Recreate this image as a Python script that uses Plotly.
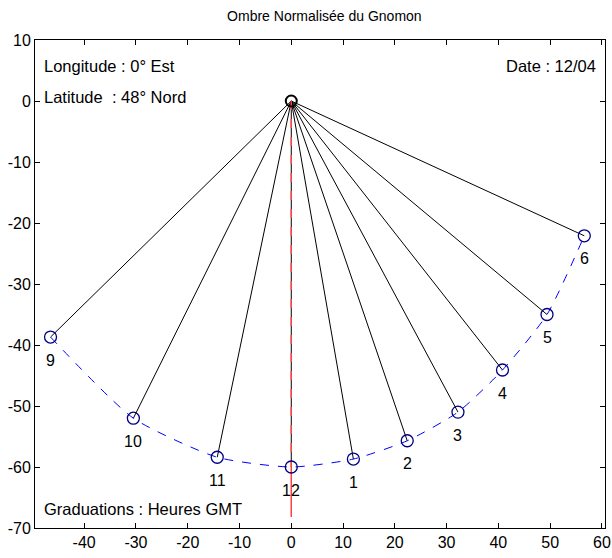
import plotly.graph_objects as go

hours = ["9", "10", "11", "12", "1", "2", "3", "4", "5", "6"]
shadow_x = [-46.5, -30.5, -14.3, 0.0, 12.0, 22.4, 32.2, 40.8, 49.4, 56.6]
shadow_y = [-38.7, -52.0, -58.4, -60.0, -58.7, -55.7, -51.0, -44.1, -35.0, -22.1]
gnomon = (0.0, 0.0)
meridian_end = -68.2
x_ticks = [-40, -30, -20, -10, 0, 10, 20, 30, 40, 50, 60]
y_ticks = [-70, -60, -50, -40, -30, -20, -10, 0, 10]

FONT = "Arial, Liberation Sans, sans-serif"
fig = go.Figure()

# rays from gnomon foot to shadow tips
for x, y in zip(shadow_x, shadow_y):
    fig.add_trace(go.Scatter(x=[gnomon[0], x], y=[gnomon[1], y], mode="lines",
                             line=dict(color="black", width=1), hoverinfo="skip"))

# meridian (red)
fig.add_trace(go.Scatter(x=[0, 0], y=[0, shadow_y[3]], mode="lines",
                         line=dict(color="#ff4040", width=1.5, dash="dash")))
fig.add_trace(go.Scatter(x=[0, 0], y=[shadow_y[3], meridian_end], mode="lines",
                         line=dict(color="#ff4040", width=1.5)))

# curve of shadow tips
fig.add_trace(go.Scatter(x=shadow_x, y=shadow_y, mode="lines",
                         line=dict(color="blue", width=1, dash="dash", shape="spline", smoothing=0.6)))
fig.add_trace(go.Scatter(x=shadow_x, y=shadow_y, mode="markers",
                         marker=dict(symbol="circle-open", size=12, color="#000080",
                                     line=dict(width=1.3, color="#000080"))))
fig.add_trace(go.Scatter(x=[gnomon[0]], y=[gnomon[1]], mode="markers",
                         marker=dict(symbol="circle-open", size=11, color="black",
                                     line=dict(width=2, color="black"))))

for h, x, y in zip(hours, shadow_x, shadow_y):
    fig.add_annotation(x=x, y=y, text=h, showarrow=False, yshift=-23,
                       font=dict(family=FONT, size=16, color="black"))

TXT = dict(family=FONT, size=16.5, color="black")
fig.add_annotation(xref="paper", yref="paper", x=0.012, y=0.947, xanchor="left", yanchor="middle",
                   text="Longitude : 0° Est", showarrow=False, font=TXT)
fig.add_annotation(xref="paper", yref="paper", x=0.012, y=0.883, xanchor="left", yanchor="middle",
                   text="Latitude  : 48° Nord", showarrow=False, font=TXT)
fig.add_annotation(xref="paper", yref="paper", x=0.988, y=0.947, xanchor="right", yanchor="middle",
                   text="Date : 12/04", showarrow=False, font=TXT)
fig.add_annotation(xref="paper", yref="paper", x=0.012, y=0.039, xanchor="left", yanchor="middle",
                   text="Graduations : Heures GMT", showarrow=False, font=TXT)

axis_common = dict(showgrid=False, zeroline=False, ticks="inside", ticklen=5, tickcolor="black",
                   showline=True, linecolor="black", linewidth=1, mirror="allticks", automargin=False,
                   ticklabeloverflow="allow",
                   tickfont=dict(family=FONT, size=16, color="black"))
fig.update_xaxes(range=[-49.5, 60.6], tickvals=x_ticks, ticktext=[str(v) for v in x_ticks], **axis_common)
fig.update_yaxes(range=[-70, 10], tickvals=y_ticks, ticktext=[str(v) for v in y_ticks], **axis_common)

fig.update_layout(
    width=612, height=558, showlegend=False,
    plot_bgcolor="white", paper_bgcolor="white",
    margin=dict(l=35, r=7, t=40, b=30),
    title=dict(text="Ombre Normalisée du Gnomon", x=0.53, xanchor="center", y=0.971, yanchor="middle",
               font=dict(family=FONT, size=14, color="black")),
)
fig.write_html("out.html", config={"displayModeBar": False},
               post_script="document.body.style.margin='0';document.body.style.overflow='hidden';")
